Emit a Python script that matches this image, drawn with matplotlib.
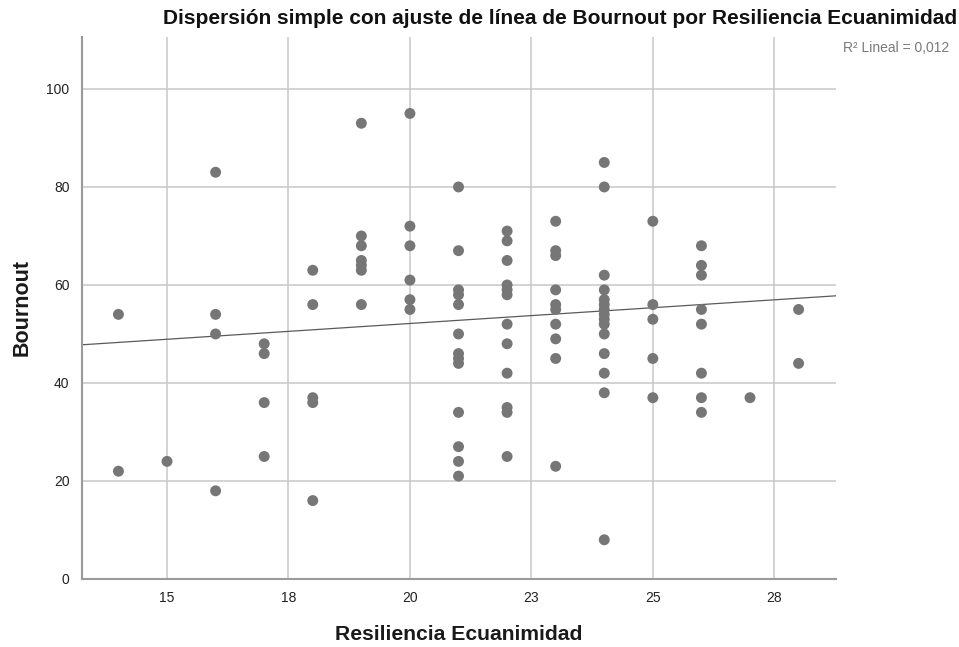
import numpy as np
import matplotlib
matplotlib.use("Agg")
import matplotlib.pyplot as plt

plt.rcParams['font.family'] = ['Liberation Sans', 'DejaVu Sans']

# Resiliencia Ecuanimidad score -> list of Bournout scores observed at that score
resiliencia_vals = [14, 15, 16, 17, 18, 19, 20, 21, 22, 23, 24, 25, 26, 27, 28]
bournout_by_score = [
    [54, 22],
    [24],
    [83, 54, 50, 18],
    [48, 46, 36, 25],
    [63, 56, 37, 36, 16],
    [93, 70, 68, 65, 64, 63, 56],
    [95, 72, 68, 61, 57, 55],
    [80, 67, 59, 58, 56, 50, 46, 45, 44, 34, 27, 24, 21],
    [71, 69, 65, 60, 59, 58, 52, 48, 42, 35, 34, 25],
    [73, 67, 66, 59, 56, 55, 52, 49, 45, 23],
    [85, 80, 62, 59, 57, 56, 55, 54, 53, 52, 50, 46, 42, 38, 8],
    [73, 56, 53, 45, 37],
    [68, 64, 62, 55, 52, 42, 37, 34],
    [37],
    [55, 44],
]

# linear fit reported for the full sample
fit_intercept = 39.26
fit_slope = 0.644

x_ticks = [15, 17.5, 20, 22.5, 25, 27.5]
x_tick_labels = ["15", "18", "20", "23", "25", "28"]
y_ticks = [0, 20, 40, 60, 80, 100]
y_tick_labels = ["0", "20", "40", "60", "80", "100"]
r2_label = "R\u00b2 Lineal = 0,012"

x = np.concatenate([[r] * len(b) for r, b in zip(resiliencia_vals, bournout_by_score)]).astype(float)
y = np.concatenate(bournout_by_score).astype(float)

fig = plt.figure(figsize=(9.59, 6.47), dpi=100)
ax = fig.add_axes([82 / 959, 1 - 579 / 647, (836 - 82) / 959, (579 - 37) / 647])

xlim = (13.25, 28.77)
ylim = (0, 110.6)

ax.scatter(x, y, s=62, color="#767676", edgecolors="none", zorder=3)

# fit line across the full axis width
xl = np.array(xlim)
ax.plot(xl, fit_intercept + fit_slope * xl, color="#5a5a5a", lw=0.9, zorder=2)

ax.set_xlim(*xlim)
ax.set_ylim(*ylim)
ax.set_xticks(x_ticks)
ax.set_xticklabels(x_tick_labels)
ax.set_yticks(y_ticks)
ax.set_yticklabels(y_tick_labels)
ax.tick_params(axis="both", length=0, labelsize=10, colors="#222222")
ax.tick_params(axis="x", pad=9)
ax.tick_params(axis="y", pad=9)
ax.grid(True, color="#c8c8c8", lw=1.1, zorder=0)
ax.set_axisbelow(True)

for side in ("top", "right"):
    ax.spines[side].set_visible(False)
for side in ("left", "bottom"):
    ax.spines[side].set_color("#9a9a9a")
    ax.spines[side].set_linewidth(1.5)

ax.set_xlabel("Resiliencia Ecuanimidad", fontsize=15.2, fontweight="bold",
              color="#1a1a1a", labelpad=14)
ax.set_ylabel("Bournout", fontsize=15.5, fontweight="bold",
              color="#1a1a1a", labelpad=10)

fig.text(0.998, 1 - 18 / 647, "Dispersión simple con ajuste de línea de Bournout por Resiliencia Ecuanimidad",
         ha="right", va="center", fontsize=15, fontweight="bold", color="#111111")
fig.text(0.990, 1 - 48 / 647, r2_label, ha="right", va="center",
         fontsize=10, color="#7a7a7a")

fig.savefig("out.png", dpi=100)
